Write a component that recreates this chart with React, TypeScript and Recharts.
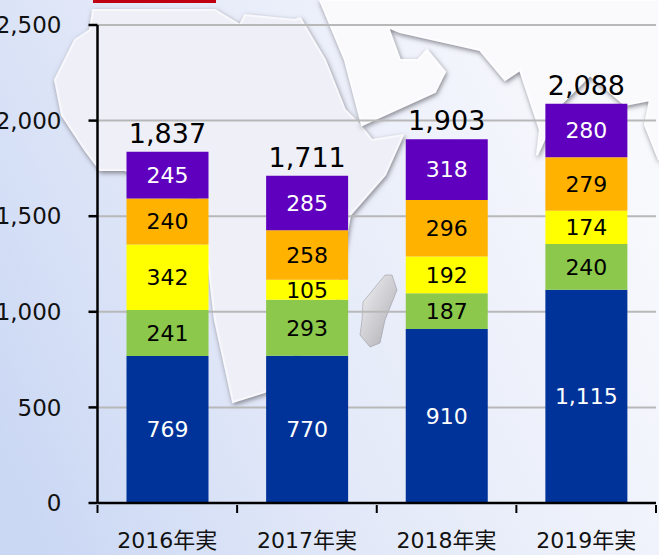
import { Bar, BarChart, CartesianGrid, LabelList, XAxis, YAxis } from "recharts";

const years = ["2016年実", "2017年実", "2018年実", "2019年実"];
const navy = [769, 770, 910, 1115];
const green = [241, 293, 187, 240];
const yellow = [342, 105, 192, 174];
const orange = [240, 258, 296, 279];
const purple = [245, 285, 318, 280];
const totals = [1837, 1711, 1903, 2088];
const yTicks = [0, 500, 1000, 1500, 2000, 2500];

const data = years.map((year, i) => ({
  year,
  navy: navy[i],
  green: green[i],
  yellow: yellow[i],
  orange: orange[i],
  purple: purple[i],
  total: totals[i],
}));

const FONT = '"DejaVu Sans", "Noto Sans CJK JP", sans-serif';
const fmt = (v: any) => Number(v).toLocaleString("en-US");

// decorative map behind the chart
function MapBackground() {
  return (
    <svg width={659} height={555} style={{ position: "absolute", left: 0, top: 0 }}>
      <defs>
        <linearGradient id="sea" x1="0" y1="0.8" x2="1" y2="0.4">
          <stop offset="0%" stopColor="#cbd8f4" />
          <stop offset="40%" stopColor="#e2e8f8" />
          <stop offset="100%" stopColor="#f8f9fd" />
        </linearGradient>
        <linearGradient id="mada" x1="0" y1="0" x2="1" y2="1">
          <stop offset="0%" stopColor="#f4f4f6" />
          <stop offset="100%" stopColor="#a9a9b0" />
        </linearGradient>
        <filter id="relief" x="-10%" y="-10%" width="120%" height="120%">
          <feDropShadow dx="1" dy="2" stdDeviation="2.5" floodColor="#77777f" floodOpacity="0.9" />
        </filter>
      </defs>
      <rect width={659} height={555} fill="url(#sea)" />
      <path
        d="M93,10 L215,10 L240,25 L245,15 L295,20 L300,18 L325,60 L345,110 L360,125 L372,140 L403,135 L385,175 L350,215 L335,300 L265,392 L233,402 L215,320 L208,260 L205,200 L125,170 L100,170 L85,150 L62,115 L55,80 L75,40 L90,30 Z"
        fill="#efeff8"
        stroke="#f8f8fc"
        strokeWidth={2}
        filter="url(#relief)"
      />
      <path
        d="M320,0 L345,60 L362,125 L435,92 L445,72 L427,50 L418,60 L400,60 L388,27 L400,32 L480,50 L505,80 L520,70 L540,130 L537,155 L560,105 L590,75 L625,105 L650,100 L645,125 L659,160 L659,0 Z"
        fill="#fafafd"
        stroke="#fdfdff"
        strokeWidth={2}
        filter="url(#relief)"
      />
      <path
        d="M363,302 L385,275 L392,275 L397,290 L385,320 L380,343 L370,347 L360,335 L362,320 Z"
        fill="url(#mada)"
        stroke="#8f8f96"
        strokeWidth={0.5}
      />
      <rect x={93} y={0} width={123} height={3} fill="#c00010" />
    </svg>
  );
}

const valueLabel = (fill: string) => ({
  position: "center" as const,
  fill,
  fontSize: 22,
  fontFamily: FONT,
  formatter: fmt,
});

// category label plus the marks on the band edges
function YearTick({ x, y, payload, index }: any) {
  const half = payload.offset;
  return (
    <g>
      <line x1={x - half} x2={x - half} y1={y} y2={y + 8} stroke="#000" strokeWidth={2} />
      {index === years.length - 1 && (
        <line x1={x + half} x2={x + half} y1={y} y2={y + 8} stroke="#000" strokeWidth={2} />
      )}
      <text x={x} y={y + 43} textAnchor="middle" fill="#111" fontSize={22} fontFamily={FONT}>
        {payload.value}
      </text>
    </g>
  );
}

export default function App() {
  return (
    <div style={{ position: "absolute", left: 0, top: 0, width: 659, height: 555, overflow: "hidden" }}>
      <MapBackground />
      <div style={{ position: "absolute", left: 0, top: 0 }}>
        <BarChart
          width={659}
          height={555}
          data={data}
          barSize={82}
          margin={{ top: 25, right: 3, bottom: 0, left: -0.5 }}
          style={{ overflow: "visible" }}
        >
          <CartesianGrid horizontal vertical={false} stroke="#b8b8b8" strokeWidth={2} />
          <XAxis
            dataKey="year"
            height={52}
            stroke="#000"
            strokeWidth={2.5}
            tickLine={false}
            tickSize={0}
            interval={0}
            tick={YearTick}
          />
          <YAxis
            domain={[0, 2500]}
            ticks={yTicks}
            width={98}
            stroke="#000"
            strokeWidth={2.5}
            tickSize={9}
            tickMargin={27}
            tickFormatter={fmt}
            tick={{ fill: "#111", fontSize: 23, fontFamily: FONT }}
          />
          <Bar dataKey="navy" stackId="a" fill="#003399" isAnimationActive={false}>
            <LabelList dataKey="navy" {...valueLabel("#fff")} />
          </Bar>
          <Bar dataKey="green" stackId="a" fill="#8cc84b" isAnimationActive={false}>
            <LabelList dataKey="green" {...valueLabel("#000")} />
          </Bar>
          <Bar dataKey="yellow" stackId="a" fill="#ffff00" isAnimationActive={false}>
            <LabelList dataKey="yellow" {...valueLabel("#000")} />
          </Bar>
          <Bar dataKey="orange" stackId="a" fill="#ffb300" isAnimationActive={false}>
            <LabelList dataKey="orange" {...valueLabel("#000")} />
          </Bar>
          <Bar dataKey="purple" stackId="a" fill="#5f00be" isAnimationActive={false}>
            <LabelList dataKey="purple" {...valueLabel("#fff")} />
            <LabelList
              dataKey="total"
              position="top"
              offset={9}
              fill="#000"
              fontSize={27}
              fontFamily={FONT}
              formatter={fmt}
            />
          </Bar>
        </BarChart>
      </div>
    </div>
  );
}
